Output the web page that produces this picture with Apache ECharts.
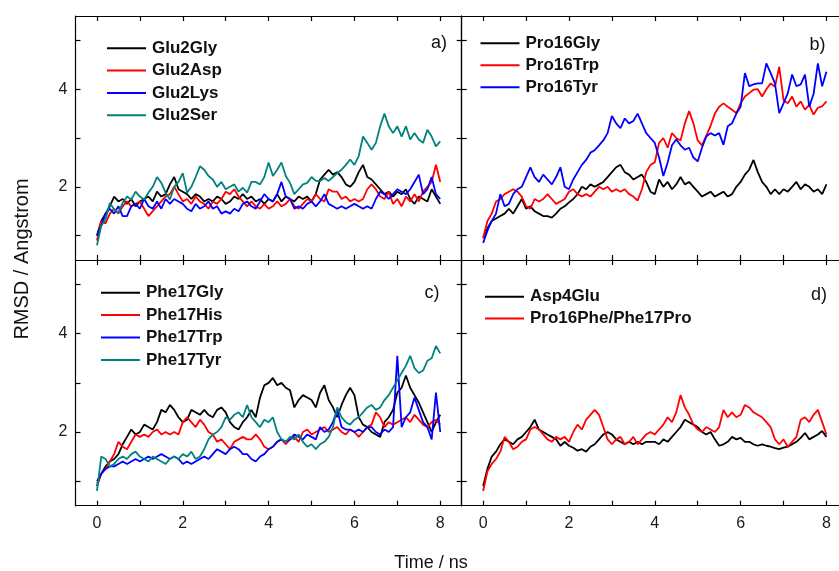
<!DOCTYPE html>
<html>
<head>
<meta charset="utf-8">
<script src="https://cdn.jsdelivr.net/npm/echarts@6/dist/echarts.min.js"></script>
<style>
html,body{margin:0;padding:0;background:#fff;}
#chart{width:839px;height:571px;}
</style>
</head>
<body>
<div id="chart"></div>
<script>
// time axis (ns)
const TIME = [0.0,0.1,0.2,0.3,0.4,0.5,0.6,0.7,0.8,0.9,
 1.0,1.1,1.2,1.3,1.4,1.5,1.6,1.7,1.8,1.9,
 2.0,2.1,2.2,2.3,2.4,2.5,2.6,2.7,2.8,2.9,
 3.0,3.1,3.2,3.3,3.4,3.5,3.6,3.7,3.8,3.9,
 4.0,4.1,4.2,4.3,4.4,4.5,4.6,4.7,4.8,4.9,
 5.0,5.1,5.2,5.3,5.4,5.5,5.6,5.7,5.8,5.9,
 6.0,6.1,6.2,6.3,6.4,6.5,6.6,6.7,6.8,6.9,
 7.0,7.1,7.2,7.3,7.4,7.5,7.6,7.7,7.8,7.9,
 8.0];

// tick values
const X_TICKS = [0,1,2,3,4,5,6,7,8];
const X_LABELS = [0,2,4,6,8];
const Y_TICKS = [1,2,3,4,5];
const Y_LABELS = [2,4];

// panel a
const glu2Gly = [1.0,1.3,1.45,1.6,1.8,1.7,1.75,1.65,1.75,1.6,
 1.7,1.75,1.8,1.7,1.9,1.8,1.85,2.05,2.2,1.95,
 1.9,1.85,1.75,1.85,1.8,1.7,1.75,1.7,1.8,1.75,
 1.65,1.7,1.8,1.75,1.85,1.75,1.8,1.7,1.75,1.65,
 1.75,1.7,1.85,1.7,1.8,1.75,1.7,1.8,1.75,1.8,
 1.7,1.85,2.15,2.25,2.35,2.25,2.3,2.2,2.05,2.0,
 2.1,2.3,2.45,2.2,2.15,2.05,1.95,1.85,1.9,1.8,
 1.9,1.85,1.95,1.75,1.65,1.8,1.75,1.7,1.95,1.8,
 1.65];
const glu2Asp = [0.9,1.3,1.25,1.45,1.55,1.45,1.6,1.7,1.6,1.65,
 1.7,1.55,1.4,1.5,1.6,1.7,1.8,1.85,2.0,1.85,
 1.7,1.75,1.65,1.8,1.7,1.65,1.55,1.7,1.65,1.75,
 1.9,1.85,1.95,1.8,1.7,1.6,1.7,1.6,1.55,1.65,
 1.55,1.6,1.7,1.6,1.65,1.75,1.6,1.55,1.65,1.75,
 1.7,1.85,1.75,1.7,1.95,1.9,1.9,1.75,1.8,1.7,
 1.75,1.7,1.75,1.95,2.05,1.95,1.8,1.75,1.9,1.65,
 1.75,1.6,1.8,1.7,1.85,1.7,1.9,2.0,2.1,2.45,
 2.1];
const glu2Lys = [1.0,1.2,1.45,1.55,1.45,1.6,1.4,1.4,1.6,1.65,
 1.55,1.75,1.6,1.55,1.7,1.55,1.75,1.65,1.75,1.7,
 1.65,1.55,1.5,1.65,1.55,1.6,1.7,1.55,1.6,1.45,
 1.5,1.45,1.55,1.5,1.65,1.7,1.6,1.55,1.7,1.85,
 1.75,1.7,1.85,2.1,1.8,1.75,1.55,1.6,1.55,1.65,
 1.7,1.6,1.7,1.85,1.65,1.6,1.55,1.6,1.55,1.6,
 1.65,1.6,1.55,1.6,1.55,1.75,1.9,1.85,1.75,1.85,
 1.95,1.9,1.85,1.95,2.1,2.25,1.85,1.95,2.2,1.85,
 1.75];
const glu2Ser = [0.8,1.2,1.33,1.67,1.54,1.47,1.67,1.8,1.74,1.9,
 1.8,1.74,1.88,2.0,2.2,2.08,1.88,1.74,2.0,2.1,
 2.28,1.88,2.0,2.2,2.42,2.35,2.22,2.15,2.0,2.1,
 1.95,2.0,2.05,1.9,1.98,1.88,2.1,2.1,2.05,2.2,
 2.5,2.22,2.35,2.5,2.22,2.08,1.85,1.95,2.05,2.08,
 2.2,2.12,2.12,2.18,2.12,2.2,2.28,2.35,2.45,2.56,
 2.45,2.63,3.03,2.9,2.76,2.9,3.24,3.5,3.24,3.1,
 3.24,3.03,3.24,2.97,3.1,2.97,2.9,3.17,3.03,2.83,
 2.93];

// panel b
const pro16Gly = [0.95,1.15,1.3,1.35,1.4,1.45,1.55,1.45,1.6,1.75,
 1.55,1.6,1.5,1.45,1.4,1.4,1.37,1.45,1.55,1.6,
 1.68,1.75,1.85,2.0,1.95,2.05,2.0,2.05,2.1,2.2,
 2.3,2.4,2.45,2.3,2.25,2.15,2.2,2.25,2.1,1.9,
 1.85,2.15,2.0,2.1,1.95,2.05,2.2,2.05,2.1,2.0,
 1.9,1.8,1.85,1.9,1.8,1.85,1.9,1.8,1.85,2.0,
 2.1,2.25,2.35,2.55,2.3,2.1,2.0,1.85,1.95,1.85,
 1.95,1.9,2.0,2.1,1.95,2.05,2.0,1.9,1.95,1.85,
 2.05];
const pro16Trp = [0.95,1.3,1.45,1.7,1.75,1.85,1.9,1.95,1.9,1.8,
 1.6,1.55,1.75,1.7,1.75,1.85,1.75,1.65,1.7,1.75,
 1.9,1.95,1.85,1.8,1.85,1.8,1.9,2.0,1.95,2.0,
 1.9,1.95,1.9,1.95,1.85,1.8,1.72,1.95,2.3,2.45,
 2.5,2.9,3.0,2.8,3.1,3.0,2.95,3.3,3.55,3.3,
 2.95,2.85,3.05,3.25,3.5,3.64,3.71,3.64,3.58,3.51,
 3.71,3.85,3.92,3.99,4.0,3.85,4.0,4.12,4.05,4.46,
 3.78,3.71,3.85,3.64,3.75,3.58,3.68,3.48,3.62,3.65,
 3.75];
const pro16Tyr = [0.85,1.1,1.3,1.45,1.85,1.6,1.65,1.85,1.95,2.0,
 2.2,2.4,2.2,2.1,2.25,2.15,2.05,2.2,2.4,2.0,
 1.95,2.15,2.3,2.45,2.55,2.7,2.75,2.85,2.95,3.1,
 3.45,3.3,3.2,3.4,3.3,3.35,3.5,3.3,3.1,3.0,
 2.9,2.6,2.22,2.5,2.85,2.97,2.85,2.76,2.8,2.6,
 2.52,2.8,3.03,3.1,3.05,3.1,2.86,3.24,3.3,3.5,
 3.64,4.33,4.06,4.1,4.12,4.12,4.53,4.33,4.12,3.51,
 3.71,3.92,4.3,4.06,4.1,4.3,3.64,3.9,4.53,4.06,
 4.36];

// panel c
const phe17Gly = [0.9,1.15,1.3,1.4,1.45,1.55,1.75,1.9,2.05,1.95,
 2.0,2.15,2.1,2.05,2.2,2.45,2.4,2.55,2.45,2.3,
 2.2,2.25,2.45,2.4,2.35,2.45,2.35,2.3,2.45,2.5,
 2.4,2.2,2.1,2.05,2.2,2.3,2.45,2.3,2.7,2.95,
 3.0,3.1,2.95,3.0,2.9,2.85,2.5,2.65,2.75,2.7,
 2.65,2.5,2.8,2.95,2.65,2.5,2.3,2.55,2.75,2.9,
 2.75,2.3,2.15,2.1,2.0,1.95,1.9,2.2,2.3,2.45,
 2.8,2.9,3.15,2.9,2.75,2.6,2.4,2.2,2.0,2.2,
 2.35];
const phe17His = [0.95,1.15,1.25,1.4,1.55,1.8,1.7,1.65,1.8,1.95,
 1.9,1.95,1.9,2.0,2.05,1.95,2.0,1.95,2.0,1.95,
 2.2,2.3,2.2,2.1,2.25,2.15,2.0,1.95,1.8,1.85,
 1.75,1.65,1.8,1.85,1.9,1.85,1.85,1.95,1.85,1.7,
 1.65,1.7,1.8,1.85,1.75,1.85,1.9,1.8,2.0,2.05,
 1.95,2.0,2.05,2.1,2.0,2.05,2.1,2.0,1.95,2.05,
 2.0,1.9,2.0,2.1,2.15,2.4,2.3,2.1,2.2,2.15,
 2.2,2.25,2.3,2.2,2.35,2.25,2.15,2.1,2.2,2.25,
 2.15];
const phe17Trp = [1.0,1.15,1.25,1.3,1.3,1.35,1.4,1.35,1.4,1.45,
 1.4,1.45,1.5,1.45,1.5,1.55,1.5,1.45,1.5,1.45,
 1.35,1.4,1.35,1.4,1.45,1.5,1.45,1.55,1.65,1.6,
 1.55,1.65,1.7,1.65,1.55,1.55,1.45,1.4,1.5,1.55,
 1.65,1.7,1.8,1.85,1.8,1.85,1.95,1.9,1.85,1.95,
 1.9,1.85,2.1,2.0,2.05,2.2,2.45,2.1,2.05,2.05,
 2.0,2.05,2.0,2.1,2.1,2.0,1.95,2.05,2.0,2.1,
 3.55,2.1,2.3,2.4,2.7,2.45,2.2,2.1,1.85,2.8,
 2.0];
const phe17Tyr = [0.8,1.5,1.45,1.3,1.35,1.45,1.5,1.45,1.55,1.6,
 1.5,1.45,1.4,1.5,1.45,1.4,1.35,1.45,1.5,1.45,
 1.55,1.5,1.6,1.45,1.5,1.65,1.85,1.95,2.0,2.1,
 2.3,2.25,2.35,2.4,2.3,2.55,2.3,2.2,2.1,2.25,
 2.2,2.3,2.0,1.85,1.8,1.9,1.85,1.95,1.8,1.7,
 1.75,1.65,1.75,1.8,1.9,2.1,2.5,2.3,2.2,2.15,
 2.25,2.3,2.4,2.5,2.55,2.45,2.5,2.65,2.75,2.9,
 3.05,3.2,3.35,3.55,3.3,3.2,3.25,3.45,3.5,3.75,
 3.6];

// panel d
const asp4Glu = [0.9,1.25,1.5,1.6,1.75,1.85,1.8,1.75,1.85,1.9,
 2.0,2.1,2.25,2.05,2.0,1.95,1.9,1.85,1.72,1.8,
 1.72,1.68,1.62,1.65,1.6,1.7,1.75,1.85,1.95,2.0,
 1.95,1.85,1.8,1.75,1.8,1.75,1.8,1.75,1.8,1.8,
 1.8,1.75,1.85,1.8,1.9,2.0,2.1,2.25,2.2,2.15,
 2.1,2.0,1.95,2.0,1.85,1.72,1.75,1.8,1.9,1.85,
 1.88,1.8,1.8,1.75,1.72,1.75,1.72,1.7,1.67,1.65,
 1.68,1.7,1.75,1.8,1.88,1.98,1.85,1.9,1.95,2.02,
 1.9];
const pro16PhePhe17Pro = [0.8,1.2,1.35,1.45,1.6,1.9,1.8,1.65,1.7,1.8,
 1.85,2.05,2.1,2.05,1.95,1.85,1.8,1.9,1.85,1.9,
 1.8,2.0,2.15,2.05,2.25,2.35,2.45,2.35,2.1,1.85,
 1.75,1.85,1.9,1.75,1.8,1.9,1.75,1.85,1.95,2.0,
 1.95,2.05,2.15,2.3,2.2,2.4,2.75,2.5,2.35,2.15,
 2.05,2.0,2.1,2.05,2.0,2.1,2.45,2.3,2.4,2.3,
 2.35,2.55,2.5,2.4,2.35,2.3,2.2,2.1,1.85,1.75,
 1.85,1.7,1.8,1.9,2.25,2.3,2.2,2.35,2.45,2.2,
 1.95];

const BLACK = '#000000', RED = '#ff0000', BLUE = '#0000ff', TEAL = '#00827e';

const PANELS = [
  {label:'a)', series:[['Glu2Gly',glu2Gly,BLACK],['Glu2Asp',glu2Asp,RED],['Glu2Lys',glu2Lys,BLUE],['Glu2Ser',glu2Ser,TEAL]]},
  {label:'b)', series:[['Pro16Gly',pro16Gly,BLACK],['Pro16Trp',pro16Trp,RED],['Pro16Tyr',pro16Tyr,BLUE]]},
  {label:'c)', series:[['Phe17Gly',phe17Gly,BLACK],['Phe17His',phe17His,RED],['Phe17Trp',phe17Trp,BLUE],['Phe17Tyr',phe17Tyr,TEAL]]},
  {label:'d)', series:[['Asp4Glu',asp4Glu,BLACK],['Pro16Phe/Phe17Pro',pro16PhePhe17Pro,RED]]}
];

// layout
const GRIDS = [
  {left:75.5, top:16, width:386.2, height:244},
  {left:461.7, top:16, width:386.2, height:244},
  {left:75.5, top:260, width:386.2, height:245.7},
  {left:461.7, top:260, width:386.2, height:245.7}
];
const LEGENDS = [
  {left:107, top:39.8, gap:5.3},
  {left:480.5, top:34.8, gap:5},
  {left:101, top:284.2, gap:5.4},
  {left:485, top:288.2, gap:4.7}
];
const PANEL_LABELS = [
  {x:447, y:43}, {x:825.5, y:45}, {x:439.5, y:293.5}, {x:827, y:295.5}
];

const FONT = '"Liberation Sans", Arial, Helvetica, sans-serif';
const AX = {color:'#000', width:1.2};

function xAxisCfg(gi, pos, showLabel){
  return {
    type:'value', gridIndex:gi, position:pos, min:-0.5, max:8.5,
    axisLine:{show:true, onZero:false, lineStyle:AX},
    axisTick:{show:true, inside:true, length:5, customValues:X_TICKS, lineStyle:AX},
    axisLabel:{show:showLabel, customValues:X_LABELS, color:'#1a1a1a', fontSize:16, fontFamily:FONT, margin:10},
    splitLine:{show:false}, minorTick:{show:false}
  };
}
function yAxisCfg(gi, pos, showLabel){
  return {
    type:'value', gridIndex:gi, position:pos, min:0.5, max:5.5,
    axisLine:{show:true, onZero:false, lineStyle:AX},
    axisTick:{show:true, inside:true, length:5, customValues:Y_TICKS, lineStyle:AX},
    axisLabel:{show:showLabel, customValues:Y_LABELS, color:'#1a1a1a', fontSize:16, fontFamily:FONT, margin:8},
    splitLine:{show:false}, minorTick:{show:false}
  };
}

const grid = [], xAxis = [], yAxis = [], series = [], legend = [], graphic = [];
GRIDS.forEach((g, gi) => {
  grid.push(Object.assign({outerBoundsMode:'none', containLabel:false, show:false}, g));
  xAxis.push(xAxisCfg(gi, 'bottom', gi >= 2));
  xAxis.push(xAxisCfg(gi, 'top', false));
  yAxis.push(yAxisCfg(gi, 'left', gi % 2 === 0));
  yAxis.push(yAxisCfg(gi, 'right', false));
  const p = PANELS[gi];
  p.series.forEach(([name, vals, color]) => {
    series.push({
      name, type:'line', xAxisIndex:2*gi, yAxisIndex:2*gi,
      data: TIME.map((t, i) => [t, vals[i]]),
      showSymbol:false, symbol:'none', clip:true, animation:false,
      lineStyle:{color, width:1.8}, itemStyle:{color}
    });
  });
  const L = LEGENDS[gi];
  legend.push({
    orient:'vertical', left:L.left, top:L.top, padding:0,
    itemWidth:39, itemHeight:2, itemGap:L.gap, icon:'rect',
    selectedMode:false,
    data:p.series.map(s => s[0]),
    textStyle:{fontSize:17, fontWeight:'bold', fontFamily:FONT, color:'#111', lineHeight:17, padding:[0,0,0,1]}
  });
});

PANELS.forEach((p, gi) => {
  graphic.push({
    type:'text', x:PANEL_LABELS[gi].x, y:PANEL_LABELS[gi].y,
    style:{text:p.label, align:'right', verticalAlign:'middle', fontSize:18, fontFamily:FONT, fill:'#111'}
  });
});
graphic.push({
  type:'text', x:431, y:563,
  style:{text:'Time / ns', align:'center', verticalAlign:'middle', fontSize:18, fontFamily:FONT, fill:'#111'}
});
graphic.push({
  type:'text', x:22, y:259, rotation:Math.PI/2,
  style:{text:'RMSD / Angstrom', align:'center', verticalAlign:'middle', fontSize:20, fontFamily:FONT, fill:'#111'}
});

const chart = echarts.init(document.getElementById('chart'), null, {renderer:'canvas'});
chart.setOption({
  animation:false,
  backgroundColor:'#ffffff',
  grid, xAxis, yAxis, series, legend, graphic
});
</script>
</body>
</html>
